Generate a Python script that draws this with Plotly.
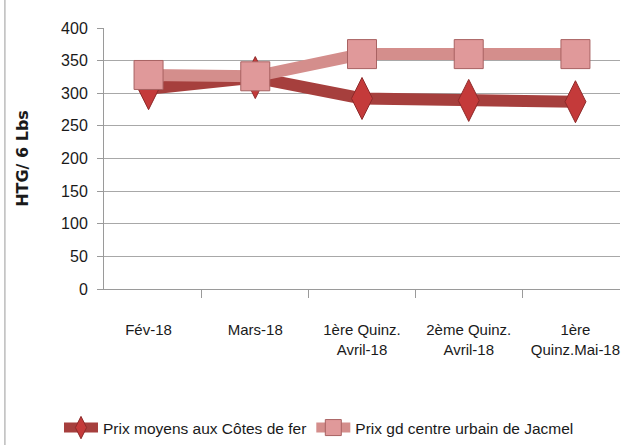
import plotly.graph_objects as go

categories = ["Fév-18", "Mars-18", "1ère Quinz.<br>Avril-18", "2ème Quinz.<br>Avril-18", "1ère<br>Quinz.Mai-18"]
series1_name = "Prix moyens aux Côtes de fer"
series1 = [307, 324, 292, 289, 287]
series2_name = "Prix gd centre urbain de Jacmel"
series2 = [328, 326, 360, 360, 360]

FONT = "Liberation Sans Narrow, Arial Narrow, Liberation Sans, sans-serif"

fig = go.Figure()
fig.add_trace(go.Scatter(
    x=categories, y=series1, name=series1_name, mode="lines+markers",
    line=dict(color="#A63F3D", width=12),
    marker=dict(symbol="diamond-tall", size=30, color="#C43A3A",
                line=dict(color="#8E2A2A", width=1)),
))
fig.add_trace(go.Scatter(
    x=categories, y=series2, name=series2_name, mode="lines+markers",
    line=dict(color="#D48E8C", width=12),
    marker=dict(symbol="square", size=29, color="#E0999A",
                line=dict(color="#A86262", width=1)),
))

fig.update_layout(
    width=621, height=445,
    margin=dict(l=104, r=1, t=28, b=156, autoexpand=False),
    paper_bgcolor="white", plot_bgcolor="white",
    font=dict(family=FONT, size=16, color="#1a1a1a"),
    showlegend=True,
    legend=dict(orientation="h", x=0.095, xanchor="left", y=-0.01, yanchor="bottom",
                yref="container", xref="container", font=dict(size=15.5), itemwidth=34,
                traceorder="normal"),
    xaxis=dict(
        type="category", showgrid=False, showline=True, linecolor="#9A9A9A", linewidth=1,
        ticks="outside", tickson="boundaries", ticklen=8, tickcolor="#9A9A9A",
        ticklabelstandoff=27, tickfont=dict(family=FONT, size=15), automargin=False,
    ),
    yaxis=dict(
        range=[0, 400], dtick=50, showgrid=True, gridcolor="#A8A8A8", gridwidth=1,
        showline=True, linecolor="#9A9A9A", ticks="outside", ticklen=6, tickcolor="#9A9A9A",
        tickfont=dict(family=FONT, size=16), zeroline=False, ticklabelstandoff=6,
        automargin=False,
        title=dict(text="<b>HTG/ 6 Lbs</b>", font=dict(family="DejaVu Sans, Verdana, sans-serif", size=16), standoff=28),
    ),
    shapes=[dict(type="line", xref="paper", yref="paper", x0=-0.192, x1=-0.192, y0=-0.6, y1=1.12,
                 line=dict(color="#9A9A9A", width=1))],
)

fig.write_html("out.html", config={"displayModeBar": False},
               post_script="document.body.style.margin='0';document.body.style.overflow='hidden';")
